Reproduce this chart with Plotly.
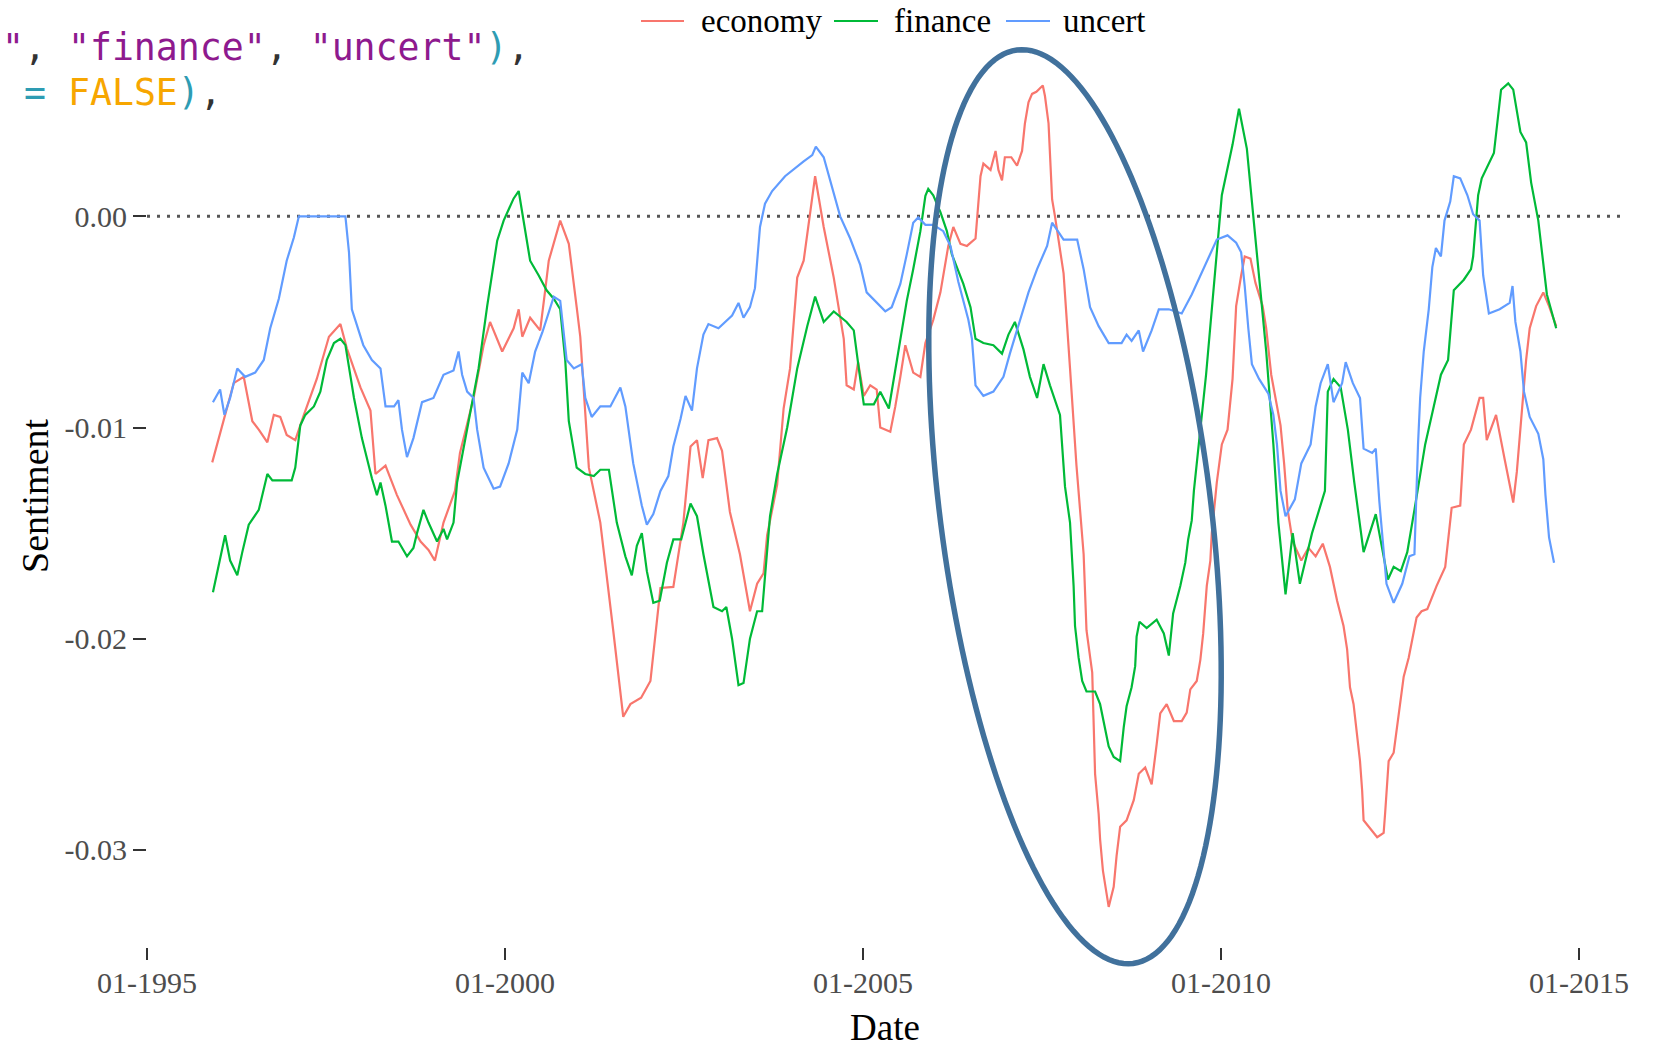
import numpy as np
import plotly.graph_objects as go

# ---- sentiment series (decimal year, sentiment score) ----
ECON_X = [1995.91, 1996.07, 1996.21, 1996.35, 1996.47, 1996.56, 1996.68, 1996.77, 1996.86, 1996.95,
          1997.07, 1997.19, 1997.37, 1997.54, 1997.70, 1997.79, 1997.98, 1998.12, 1998.19, 1998.33,
          1998.49, 1998.68, 1998.82, 1998.93, 1999.02, 1999.14, 1999.30, 1999.37, 1999.56, 1999.70,
          1999.79, 1999.96, 2000.12, 2000.19, 2000.24, 2000.35, 2000.49, 2000.56, 2000.61, 2000.77,
          2000.89, 2001.00, 2001.05, 2001.17, 2001.33, 2001.51, 2001.65, 2001.75, 2001.90, 2002.03,
          2002.17, 2002.35, 2002.49, 2002.59, 2002.68, 2002.76, 2002.84, 2002.96, 2003.03, 2003.14,
          2003.28, 2003.42, 2003.52, 2003.61, 2003.66, 2003.80, 2003.89, 2003.98, 2004.08, 2004.17,
          2004.33, 2004.45, 2004.59, 2004.73, 2004.77, 2004.87, 2004.93, 2005.01, 2005.10, 2005.19,
          2005.24, 2005.38, 2005.45, 2005.52, 2005.59, 2005.70, 2005.80, 2005.87, 2005.98, 2006.08,
          2006.19, 2006.26, 2006.36, 2006.45, 2006.57, 2006.64, 2006.68, 2006.78, 2006.85, 2006.89,
          2006.94, 2006.98, 2007.07, 2007.15, 2007.22, 2007.26, 2007.31, 2007.36, 2007.42, 2007.51,
          2007.54, 2007.59, 2007.61, 2007.64, 2007.68, 2007.80, 2007.89, 2007.98, 2008.08, 2008.12,
          2008.20, 2008.22, 2008.24, 2008.29, 2008.31, 2008.35, 2008.43, 2008.50, 2008.54, 2008.59,
          2008.68, 2008.78, 2008.85, 2008.94, 2009.03, 2009.10, 2009.15, 2009.24, 2009.34, 2009.45,
          2009.52, 2009.57, 2009.66, 2009.71, 2009.75, 2009.80, 2009.85, 2009.87, 2009.94, 2010.01,
          2010.09, 2010.16, 2010.21, 2010.28, 2010.33, 2010.41, 2010.48, 2010.58, 2010.63, 2010.70,
          2010.78, 2010.83, 2010.88, 2010.93, 2011.00, 2011.12, 2011.22, 2011.32, 2011.42, 2011.52,
          2011.62, 2011.71, 2011.76, 2011.80, 2011.85, 2011.90, 2011.94, 2011.97, 2011.99, 2012.18,
          2012.27, 2012.29, 2012.34, 2012.41, 2012.45, 2012.50, 2012.55, 2012.62, 2012.66, 2012.73,
          2012.80, 2012.88, 2013.01, 2013.13, 2013.22, 2013.34, 2013.39, 2013.49, 2013.61, 2013.66,
          2013.71, 2013.84, 2013.96, 2014.08, 2014.13, 2014.21, 2014.26, 2014.31, 2014.40, 2014.50,
          2014.58, 2014.68]
ECON_Y = [-0.01165, -0.0097, -0.0079, -0.0076, -0.0097, -0.0101, -0.0107, -0.0094, -0.0095, -0.01035,
          -0.0106, -0.0094, -0.0077, -0.0057, -0.0051, -0.00625, -0.0081, -0.0092, -0.0122, -0.0118,
          -0.0132, -0.0146, -0.0154, -0.0158, -0.0163, -0.0145, -0.0130, -0.0112, -0.0086, -0.0061,
          -0.0050, -0.0064, -0.0053, -0.0044, -0.0057, -0.0048, -0.0054, -0.0035, -0.0021, -0.0002,
          -0.0013, -0.0043, -0.0057, -0.0119, -0.0145, -0.0196, -0.0237, -0.0231, -0.0228, -0.0220,
          -0.0176, -0.01755, -0.0145, -0.0109, -0.0106, -0.0124, -0.0106, -0.0105, -0.0111, -0.0140,
          -0.0160, -0.0187, -0.0174, -0.0169, -0.0151, -0.0127, -0.0091, -0.0072, -0.0029, -0.0021,
          0.0019, -0.0005, -0.0029, -0.0058, -0.0080, -0.0082, -0.0069, -0.0085, -0.0080, -0.0082,
          -0.0100, -0.0102, -0.0090, -0.0076, -0.0061, -0.0074, -0.0076, -0.0060, -0.0049, -0.0036,
          -0.0014, -0.0005, -0.0013, -0.0014, -0.00105, 0.0019, 0.0025, 0.0022, 0.0031, 0.0022,
          0.0017, 0.0028, 0.0028, 0.0024, 0.0031, 0.0044, 0.0054, 0.0058, 0.0059, 0.0062,
          0.0057, 0.0044, 0.0030, 0.0008, 0.0000, -0.0027, -0.0072, -0.0118, -0.0160, -0.0196,
          -0.0216, -0.0237, -0.0264, -0.0283, -0.0295, -0.0310, -0.0327, -0.03175, -0.0303, -0.0289,
          -0.0286, -0.02765, -0.0264, -0.0261, -0.0269, -0.0250, -0.02354, -0.0231, -0.0239, -0.0239,
          -0.0235, -0.0224, -0.0220, -0.0210, -0.01975, -0.0175, -0.0163, -0.0150, -0.0126, -0.0108,
          -0.0101, -0.0077, -0.00425, -0.0028, -0.0019, -0.0020, -0.00315, -0.00425, -0.0053, -0.0075,
          -0.0090, -0.0099, -0.0117, -0.0139, -0.0154, -0.0163, -0.0157, -0.0161, -0.0155, -0.0166,
          -0.0182, -0.0194, -0.0205, -0.0223, -0.0231, -0.0245, -0.0258, -0.0272, -0.0286, -0.0294,
          -0.0292, -0.0283, -0.0258, -0.0254, -0.0243, -0.0232, -0.0218, -0.0209, -0.0202, -0.0190,
          -0.0187, -0.0186, -0.0175, -0.0166, -0.0138, -0.0137, -0.0108, -0.0101, -0.0086, -0.0086,
          -0.0106, -0.0094, -0.0115, -0.01355, -0.0121, -0.0086, -0.0068, -0.0053, -0.00425, -0.0036,
          -0.00425, -0.0052]

FIN_X = [1995.92, 1995.98, 1996.09, 1996.16, 1996.26, 1996.33, 1996.42, 1996.56, 1996.65, 1996.68,
         1996.75, 1997.02, 1997.07, 1997.14, 1997.21, 1997.33, 1997.42, 1997.51, 1997.61, 1997.70,
         1997.77, 1997.89, 1998.00, 1998.14, 1998.21, 1998.26, 1998.33, 1998.42, 1998.51, 1998.63,
         1998.72, 1998.77, 1998.86, 1998.93, 1999.05, 1999.14, 1999.19, 1999.28, 1999.33, 1999.47,
         1999.63, 1999.75, 1999.89, 1999.98, 2000.12, 2000.19, 2000.26, 2000.35, 2000.47, 2000.58,
         2000.68, 2000.77, 2000.84, 2000.89, 2001.00, 2001.12, 2001.24, 2001.33, 2001.45, 2001.56,
         2001.68, 2001.77, 2001.84, 2001.91, 2001.98, 2002.07, 2002.16, 2002.26, 2002.35, 2002.46,
         2002.59, 2002.68, 2002.77, 2002.91, 2003.03, 2003.09, 2003.17, 2003.26, 2003.33, 2003.42,
         2003.52, 2003.59, 2003.70, 2003.80, 2003.94, 2004.08, 2004.22, 2004.33, 2004.45, 2004.59,
         2004.77, 2004.87, 2004.94, 2005.01, 2005.15, 2005.24, 2005.36, 2005.47, 2005.61, 2005.70,
         2005.80, 2005.87, 2005.91, 2005.98, 2006.08, 2006.17, 2006.24, 2006.40, 2006.50, 2006.57,
         2006.68, 2006.82, 2006.94, 2007.03, 2007.12, 2007.24, 2007.33, 2007.43, 2007.52, 2007.61,
         2007.75, 2007.82, 2007.89, 2007.94, 2007.96, 2008.01, 2008.06, 2008.12, 2008.24, 2008.31,
         2008.38, 2008.43, 2008.50, 2008.59, 2008.64, 2008.68, 2008.75, 2008.80, 2008.82, 2008.86,
         2008.96, 2009.10, 2009.20, 2009.27, 2009.33, 2009.43, 2009.50, 2009.54, 2009.59, 2009.62,
         2009.79, 2009.94, 2010.01, 2010.16, 2010.25, 2010.36, 2010.48, 2010.63, 2010.73, 2010.80,
         2010.90, 2011.00, 2011.10, 2011.27, 2011.45, 2011.49, 2011.57, 2011.67, 2011.77, 2011.86,
         2011.99, 2012.16, 2012.33, 2012.41, 2012.51, 2012.60, 2012.70, 2012.85, 2012.97, 2013.07,
         2013.17, 2013.25, 2013.39, 2013.49, 2013.52, 2013.59, 2013.64, 2013.81, 2013.91, 2014.01,
         2014.08, 2014.18, 2014.26, 2014.33, 2014.43, 2014.50, 2014.55, 2014.68]
FIN_Y = [-0.0178, -0.0168, -0.0151, -0.0163, -0.0170, -0.0159, -0.0146, -0.0139, -0.0126, -0.0122,
         -0.0125, -0.0125, -0.0119, -0.0099, -0.0094, -0.0090, -0.0083, -0.0068, -0.0060, -0.0058,
         -0.0061, -0.0086, -0.0105, -0.0124, -0.0132, -0.0126, -0.0137, -0.0154, -0.0154, -0.0161,
         -0.0157, -0.0150, -0.0139, -0.0145, -0.0154, -0.0148, -0.0153, -0.0145, -0.0126, -0.0101,
         -0.0072, -0.00425, -0.00115, -0.0002, 0.00085, 0.0012, -0.0002, -0.0021, -0.0028, -0.0035,
         -0.0039, -0.0044, -0.0068, -0.0097, -0.0119, -0.0122, -0.0123, -0.0120, -0.0120, -0.0145,
         -0.0161, -0.0170, -0.0156, -0.0150, -0.0168, -0.0183, -0.0182, -0.0164, -0.0153, -0.0153,
         -0.0136, -0.0142, -0.0160, -0.0185, -0.0187, -0.0185, -0.0200, -0.0222, -0.0221, -0.0200,
         -0.0187, -0.0187, -0.0142, -0.0122, -0.0100, -0.0072, -0.0052, -0.0038, -0.0050, -0.0045,
         -0.0050, -0.0054, -0.0072, -0.0089, -0.0089, -0.0083, -0.0091, -0.0069, -0.0040, -0.0025,
         -0.0007, 0.00097, 0.0013, 0.0010, 0.0002, -0.0007, -0.0018, -0.0032, -0.0043, -0.0058,
         -0.0060, -0.0061, -0.0065, -0.0056, -0.0050, -0.0063, -0.0076, -0.0086, -0.0070, -0.0080,
         -0.0094, -0.0128, -0.0145, -0.0175, -0.0194, -0.0209, -0.0220, -0.0225, -0.0225, -0.0231,
         -0.0242, -0.0251, -0.0256, -0.0258, -0.0242, -0.0232, -0.0223, -0.0213, -0.0199, -0.0192,
         -0.0195, -0.0191, -0.01975, -0.0208, -0.0188, -0.0175, -0.0164, -0.0153, -0.0144, -0.0130,
         -0.0075, -0.0017, 0.0010, 0.0034, 0.0051, 0.0032, -0.00116, -0.0064, -0.0108, -0.0145,
         -0.0179, -0.0150, -0.0174, -0.0150, -0.0130, -0.0083, -0.0077, -0.0081, -0.0101, -0.0126,
         -0.0159, -0.0141, -0.0172, -0.0166, -0.0168, -0.0159, -0.0139, -0.0108, -0.0090, -0.0075,
         -0.0068, -0.0035, -0.0030, -0.0025, -0.0019, 0.0010, 0.0018, 0.0030, 0.0060, 0.0063,
         0.0060, 0.0040, 0.0035, 0.0016, -0.0002, -0.00225, -0.0037, -0.0053]

UNC_X = [1995.92, 1996.02, 1996.08, 1996.16, 1996.26, 1996.37, 1996.51, 1996.63, 1996.72, 1996.84,
         1996.95, 1997.05, 1997.12, 1997.77, 1997.82, 1997.86, 1998.02, 1998.14, 1998.26, 1998.33,
         1998.45, 1998.51, 1998.56, 1998.63, 1998.72, 1998.84, 1999.00, 1999.14, 1999.28, 1999.35,
         1999.40, 1999.47, 1999.56, 1999.61, 1999.70, 1999.84, 1999.93, 2000.05, 2000.17, 2000.24,
         2000.33, 2000.42, 2000.52, 2000.61, 2000.68, 2000.77, 2000.86, 2000.96, 2001.07, 2001.12,
         2001.21, 2001.33, 2001.47, 2001.61, 2001.68, 2001.79, 2001.91, 2001.98, 2002.07, 2002.17,
         2002.28, 2002.35, 2002.45, 2002.52, 2002.61, 2002.68, 2002.77, 2002.84, 2002.98, 2003.17,
         2003.26, 2003.33, 2003.42, 2003.49, 2003.56, 2003.63, 2003.73, 2003.91, 2003.98, 2004.17,
         2004.29, 2004.34, 2004.45, 2004.56, 2004.68, 2004.82, 2004.96, 2005.05, 2005.19, 2005.31,
         2005.40, 2005.52, 2005.61, 2005.70, 2005.77, 2005.87, 2005.98, 2006.12, 2006.22, 2006.33,
         2006.47, 2006.52, 2006.57, 2006.68, 2006.82, 2006.96, 2007.05, 2007.19, 2007.31, 2007.43,
         2007.57, 2007.64, 2007.80, 2007.99, 2008.08, 2008.17, 2008.29, 2008.43, 2008.61, 2008.68,
         2008.75, 2008.85, 2008.91, 2009.03, 2009.13, 2009.27, 2009.45, 2009.59, 2009.79, 2009.94,
         2010.09, 2010.21, 2010.28, 2010.33, 2010.38, 2010.43, 2010.53, 2010.66, 2010.73, 2010.78,
         2010.83, 2010.90, 2011.03, 2011.12, 2011.25, 2011.32, 2011.39, 2011.49, 2011.57, 2011.69,
         2011.74, 2011.84, 2011.94, 2011.99, 2012.11, 2012.16, 2012.21, 2012.31, 2012.41, 2012.53,
         2012.63, 2012.70, 2012.75, 2012.78, 2012.83, 2012.90, 2012.95, 2013.00, 2013.07, 2013.12,
         2013.20, 2013.25, 2013.34, 2013.44, 2013.52, 2013.61, 2013.66, 2013.74, 2013.89, 2014.03,
         2014.07, 2014.11, 2014.18, 2014.23, 2014.31, 2014.43, 2014.50, 2014.53, 2014.58, 2014.65]
UNC_Y = [-0.0088, -0.0082, -0.0094, -0.0086, -0.0072, -0.0076, -0.0074, -0.0068, -0.0053, -0.0039,
         -0.0021, -0.0010, 0.0000, 0.0000, -0.0017, -0.0044, -0.0061, -0.0068, -0.0072, -0.0090,
         -0.0090, -0.0087, -0.0101, -0.0114, -0.0105, -0.0088, -0.0086, -0.0075, -0.0073, -0.0064,
         -0.0075, -0.0083, -0.0086, -0.0101, -0.0119, -0.0129, -0.0128, -0.0117, -0.0101, -0.0074,
         -0.0079, -0.0064, -0.0055, -0.0046, -0.0038, -0.0040, -0.0068, -0.0072, -0.0070, -0.0086,
         -0.0095, -0.0090, -0.0090, -0.0081, -0.0090, -0.0117, -0.0137, -0.0146, -0.0141, -0.0130,
         -0.0123, -0.0109, -0.0096, -0.0085, -0.0092, -0.0072, -0.0056, -0.0051, -0.0053, -0.0047,
         -0.0041, -0.0048, -0.0043, -0.0034, -0.0005, 0.0006, 0.0012, 0.0019, 0.0021, 0.0026,
         0.0029, 0.0033, 0.0028, 0.0015, 0.0000, -0.00105, -0.0023, -0.0036, -0.0041, -0.0045,
         -0.0043, -0.0032, -0.0018, -0.0003, -0.00005, -0.0004, -0.0004, -0.0007, -0.0014, -0.0031,
         -0.0049, -0.0058, -0.0080, -0.0085, -0.0083, -0.0076, -0.0065, -0.0050, -0.0036, -0.0025,
         -0.0014, -0.0003, -0.0011, -0.0011, -0.0025, -0.0043, -0.0052, -0.0060, -0.0060, -0.0056,
         -0.0059, -0.0054, -0.0064, -0.0054, -0.0044, -0.0044, -0.0046, -0.0037, -0.00225, -0.0011,
         -0.0009, -0.00125, -0.0017, -0.0033, -0.0053, -0.0070, -0.0077, -0.0084, -0.0094, -0.0108,
         -0.0130, -0.0142, -0.0134, -0.0117, -0.0108, -0.0090, -0.0079, -0.0070, -0.0088, -0.0079,
         -0.0069, -0.0079, -0.0086, -0.0110, -0.0112, -0.0110, -0.0135, -0.0174, -0.0183, -0.0174,
         -0.0161, -0.0160, -0.0108, -0.0086, -0.0064, -0.0044, -0.0024, -0.0015, -0.0019, -0.0002,
         0.0007, 0.0019, 0.0018, 0.0010, 0.0001, -0.0002, -0.0028, -0.0046, -0.0044, -0.0041,
         -0.0033, -0.0050, -0.0064, -0.0083, -0.0095, -0.0103, -0.0115, -0.0132, -0.0152, -0.0164]

SERIES = ["economy", "finance", "uncert"]
COLORS = {"economy": "#F8766D", "finance": "#00BA38", "uncert": "#619CFF"}

X_TICKS = [1995, 2000, 2005, 2010, 2015]
X_TICK_TEXT = ["01-1995", "01-2000", "01-2005", "01-2010", "01-2015"]
Y_TICKS = [-0.03, -0.02, -0.01, 0.0]
Y_TICK_TEXT = ["-0.03", "-0.02", "-0.01", "0.00"]

# ---- page geometry (pixels) ----
W, H = 1655, 1049
PLOT_L, PLOT_T, PLOT_W, PLOT_H = 147, 43, 1474, 904


def to_paper(px, py):
    """Convert page pixel coordinates to plot-area paper fractions."""
    return (np.asarray(px) - PLOT_L) / PLOT_W, (PLOT_T + PLOT_H - np.asarray(py)) / PLOT_H


fig = go.Figure()
data = {"economy": (ECON_X, ECON_Y), "finance": (FIN_X, FIN_Y), "uncert": (UNC_X, UNC_Y)}
for name in SERIES:
    xs, ys = data[name]
    fig.add_trace(go.Scatter(x=xs, y=ys, mode="lines", name=name, showlegend=False,
                             line=dict(color=COLORS[name], width=2.2)))

shapes = []
# dotted reference line at zero
shapes.append(dict(type="line", xref="paper", yref="y", x0=0, x1=1, y0=0, y1=0,
                   line=dict(color="#555555", width=3, dash="3px,7px"), layer="below"))

# legend keys along the top edge
legend_items = [("economy", 641, 684, 699), ("finance", 834, 878, 892), ("uncert", 1006, 1050, 1061)]
annotations = []
for name, lx0, lx1, tx in legend_items:
    (px0, px1), (py, _) = to_paper([lx0, lx1], [21, 21])
    shapes.append(dict(type="line", xref="paper", yref="paper", x0=px0, x1=px1, y0=py, y1=py,
                       line=dict(color=COLORS[name], width=2.2)))
    tpx, tpy = to_paper(tx, 21)
    annotations.append(dict(text=name, xref="paper", yref="paper", x=float(tpx), y=float(tpy),
                            xanchor="left", yanchor="middle", showarrow=False,
                            font=dict(family="Liberation Serif", size=33, color="#000000")))

# highlight ellipse around the 2008 slump
cx, cy, a, b, tilt = 1075.0, 506.7, 460.4, 135.3, np.deg2rad(7.24)
t = np.linspace(0, 2 * np.pi, 181)
ex = cx + a * np.cos(t) * np.sin(tilt) + b * np.sin(t) * np.cos(tilt)
ey = cy + a * np.cos(t) * np.cos(tilt) - b * np.sin(t) * np.sin(tilt)
epx, epy = to_paper(ex, ey)
path = "M " + " L ".join(f"{u:.5f},{v:.5f}" for u, v in zip(epx, epy)) + " Z"
shapes.append(dict(type="path", xref="paper", yref="paper", path=path,
                   line=dict(color="#41719C", width=5.5), layer="above"))

# axis titles
dx, dy = to_paper(885, 1027)
annotations.append(dict(text="Date", xref="paper", yref="paper", x=float(dx), y=float(dy),
                        xanchor="center", yanchor="middle", showarrow=False,
                        font=dict(family="Liberation Serif", size=37, color="#000000")))
sx, sy = to_paper(35, 496)
annotations.append(dict(text="Sentiment", xref="paper", yref="paper", x=float(sx), y=float(sy),
                        xanchor="center", yanchor="middle", textangle=-90, showarrow=False,
                        font=dict(family="Liberation Serif", size=38, color="#000000")))

# code snippet lines in the upper-left corner
PURPLE, TEAL, ORANGE, DARK = "#8E1A8E", "#2E9CB3", "#F7A600", "#333333"
code_line1 = (f'<span style="color:{PURPLE}">"</span><span style="color:{DARK}">, </span>'
              f'<span style="color:{PURPLE}">"finance"</span><span style="color:{DARK}">, </span>'
              f'<span style="color:{PURPLE}">"uncert"</span><span style="color:{TEAL}">)</span>'
              f'<span style="color:{DARK}">,</span>')
code_line2 = (f'&nbsp;<span style="color:{TEAL}">=</span>&nbsp;'
              f'<span style="color:{ORANGE}">FALSE</span><span style="color:{TEAL}">)</span>'
              f'<span style="color:{DARK}">,</span>')
for txt, py in [(code_line1, 47), (code_line2, 92)]:
    cxp, cyp = to_paper(0, py)
    annotations.append(dict(text=txt, xref="paper", yref="paper", x=float(cxp), y=float(cyp),
                            xanchor="left", yanchor="middle", showarrow=False,
                            font=dict(family="DejaVu Sans Mono", size=36.5, color=DARK)))

tick_font = dict(family="Liberation Serif", size=30, color="#4D4D4D")
fig.update_layout(
    width=W, height=H,
    margin=dict(l=PLOT_L, r=W - PLOT_L - PLOT_W, t=PLOT_T, b=H - PLOT_T - PLOT_H, autoexpand=False),
    paper_bgcolor="white", plot_bgcolor="white",
    showlegend=False,
    shapes=shapes, annotations=annotations,
    xaxis=dict(range=[1994.999, 2015.585], tickmode="array", tickvals=X_TICKS, ticktext=X_TICK_TEXT,
               ticks="outside", ticklen=12, tickwidth=2, tickcolor="#333333",
               showgrid=False, zeroline=False, showline=False, tickfont=tick_font,
               ticklabelstandoff=-3),
    yaxis=dict(range=[-0.0346, 0.00821], tickmode="array", tickvals=Y_TICKS, ticktext=Y_TICK_TEXT,
               ticks="outside", ticklen=13, tickwidth=2, tickcolor="#333333",
               showgrid=False, zeroline=False, showline=False, tickfont=tick_font,
               ticklabelstandoff=0),
)

fig.write_html("out.html")
